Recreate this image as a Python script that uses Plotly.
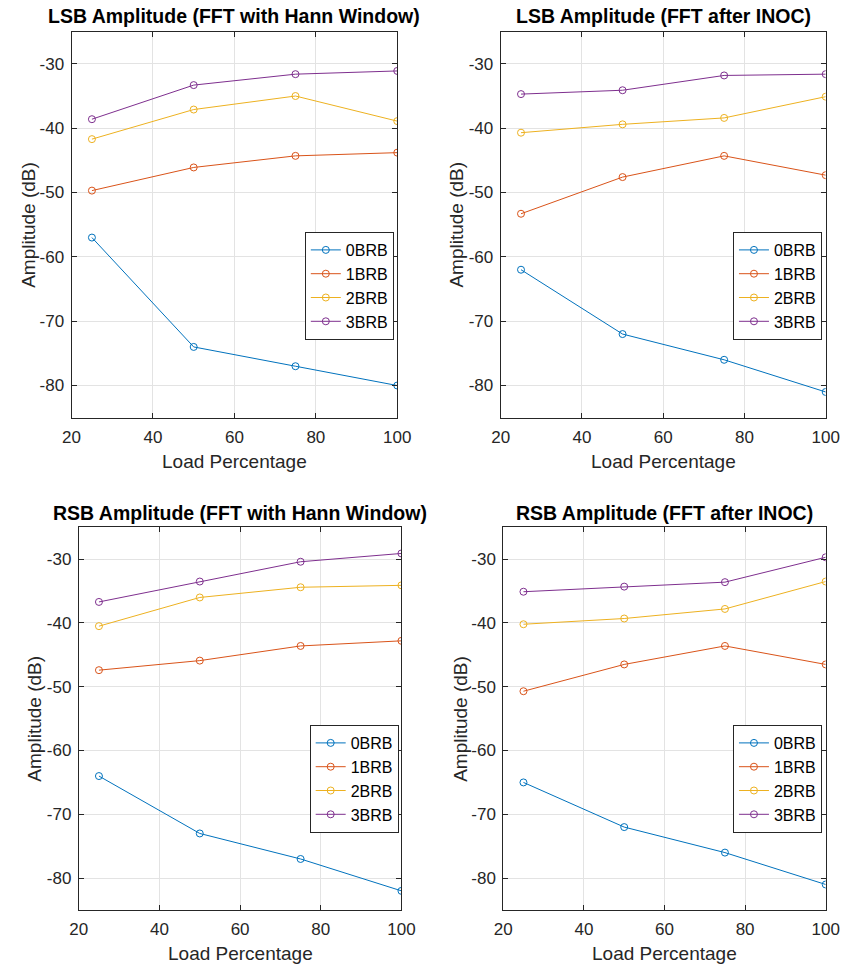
import plotly.graph_objects as go

# Load levels (%) and sideband amplitudes (dB) for each rotor condition
load_pct = [25, 50, 75, 100]
series_names = ["0BRB", "1BRB", "2BRB", "3BRB"]

lsb_hann_0 = [-57.0, -74.0, -77.0, -80.0]
lsb_hann_1 = [-49.7, -46.1, -44.3, -43.8]
lsb_hann_2 = [-41.7, -37.1, -35.0, -38.9]
lsb_hann_3 = [-38.6, -33.3, -31.6, -31.1]

lsb_inoc_0 = [-62.0, -72.0, -76.0, -81.0]
lsb_inoc_1 = [-53.3, -47.6, -44.3, -47.3]
lsb_inoc_2 = [-40.7, -39.4, -38.4, -35.1]
lsb_inoc_3 = [-34.7, -34.1, -31.8, -31.6]

rsb_hann_0 = [-64.0, -73.0, -77.0, -82.0]
rsb_hann_1 = [-47.4, -45.9, -43.6, -42.8]
rsb_hann_2 = [-40.5, -36.0, -34.4, -34.1]
rsb_hann_3 = [-36.7, -33.5, -30.4, -29.1]

rsb_inoc_0 = [-65.0, -72.0, -76.0, -81.0]
rsb_inoc_1 = [-50.7, -46.5, -43.6, -46.5]
rsb_inoc_2 = [-40.2, -39.3, -37.8, -33.5]
rsb_inoc_3 = [-35.1, -34.3, -33.6, -29.7]

panel_titles = [
    "LSB Amplitude (FFT with Hann Window)",
    "LSB Amplitude (FFT after INOC)",
    "RSB Amplitude (FFT with Hann Window)",
    "RSB Amplitude (FFT after INOC)",
]
panel_data = [
    [lsb_hann_0, lsb_hann_1, lsb_hann_2, lsb_hann_3],
    [lsb_inoc_0, lsb_inoc_1, lsb_inoc_2, lsb_inoc_3],
    [rsb_hann_0, rsb_hann_1, rsb_hann_2, rsb_hann_3],
    [rsb_inoc_0, rsb_inoc_1, rsb_inoc_2, rsb_inoc_3],
]
x_ticks = [20, 40, 60, 80, 100]
x_tick_labels = ["20", "40", "60", "80", "100"]
y_ticks = [-80, -70, -60, -50, -40, -30]
y_tick_labels = ["-80", "-70", "-60", "-50", "-40", "-30"]

colors = ["#0072BD", "#D95319", "#EDB120", "#7E2F8E"]

W, H = 854, 964
def px(x):
    return x / W
def py(y):
    return 1 - y / H

# Axes boxes in pixels: (left, right, top, bottom)
boxes = [
    (64.3, 399.0, 31.7, 417.7),
    (505.3, 839.3, 31.7, 417.7),
    (71.7, 403.3, 527.3, 910.0),
    (508.0, 839.3, 527.3, 910.0),
]
legend_pos = [(304, 232), (744, 232), (309, 725), (744, 725)]
ylabel_x = [20.7, 460.3, 26.7, 463.7]
xlabel_y = [461.7, 461.7, 953.3, 953.3]
title_y = [16, 16, 512.7, 512.7]

axis_color = "#262626"
grid_color = "#e3e3e3"
font_family = "Liberation Sans, Arial, sans-serif"

fig = go.Figure()
layout = dict(
    width=W, height=H,
    margin=dict(l=0, r=0, t=0, b=0),
    paper_bgcolor="white", plot_bgcolor="white",
    font=dict(family=font_family, color=axis_color),
    annotations=[],
)

for i in range(4):
    n = "" if i == 0 else str(i + 1)
    leg = "legend" if i == 0 else f"legend{i + 1}"
    for k in range(4):
        fig.add_trace(go.Scatter(
            x=load_pct, y=panel_data[i][k], name=series_names[k],
            mode="lines+markers",
            line=dict(color=colors[k], width=1),
            marker=dict(symbol="circle-open", size=7, color=colors[k],
                        line=dict(width=1, color=colors[k])),
            xaxis="x" + n, yaxis="y" + n, legend=leg,
        ))
    l, r, t, b = boxes[i]
    layout["xaxis" + n] = dict(
        domain=[px(l), px(r)], anchor="y" + n, range=[20, 100],
        tickvals=x_ticks, ticktext=x_tick_labels,
        ticks="inside", ticklen=5, tickcolor=axis_color,
        showline=True, linecolor=axis_color, linewidth=1, mirror="ticks",
        showgrid=True, gridcolor=grid_color, gridwidth=1, zeroline=False,
        tickfont=dict(size=17, color=axis_color), ticklabelstandoff=4,
    )
    layout["yaxis" + n] = dict(
        domain=[py(b), py(t)], anchor="x" + n, range=[-85, -25],
        tickvals=y_ticks, ticktext=y_tick_labels,
        ticks="inside", ticklen=5, tickcolor=axis_color,
        showline=True, linecolor=axis_color, linewidth=1, mirror="ticks",
        showgrid=True, gridcolor=grid_color, gridwidth=1, zeroline=False,
        tickfont=dict(size=17, color=axis_color), ticklabelstandoff=3,
    )
    lx, ly = legend_pos[i]
    layout[leg] = dict(
        x=px(lx), y=py(ly), xanchor="left", yanchor="top",
        bgcolor="white", bordercolor=axis_color, borderwidth=1,
        font=dict(size=16, color="#000000"), tracegroupgap=0,
        itemwidth=30,
    )
    cx = (l + r) / 2
    layout["annotations"] += [
        dict(text=f"<b>{panel_titles[i]}</b>", x=px(cx), y=py(title_y[i]),
             xref="paper", yref="paper", showarrow=False,
             xanchor="center", yanchor="middle",
             font=dict(size=19.5, color="#000000")),
        dict(text="Load Percentage", x=px(cx), y=py(xlabel_y[i]),
             xref="paper", yref="paper", showarrow=False,
             xanchor="center", yanchor="middle",
             font=dict(size=19, color=axis_color)),
        dict(text="Amplitude (dB)", x=px(ylabel_x[i]), y=py((t + b) / 2),
             xref="paper", yref="paper", showarrow=False, textangle=-90,
             xanchor="center", yanchor="middle",
             font=dict(size=19, color=axis_color)),
    ]

fig.update_layout(**layout)
fig.write_html("out.html")
